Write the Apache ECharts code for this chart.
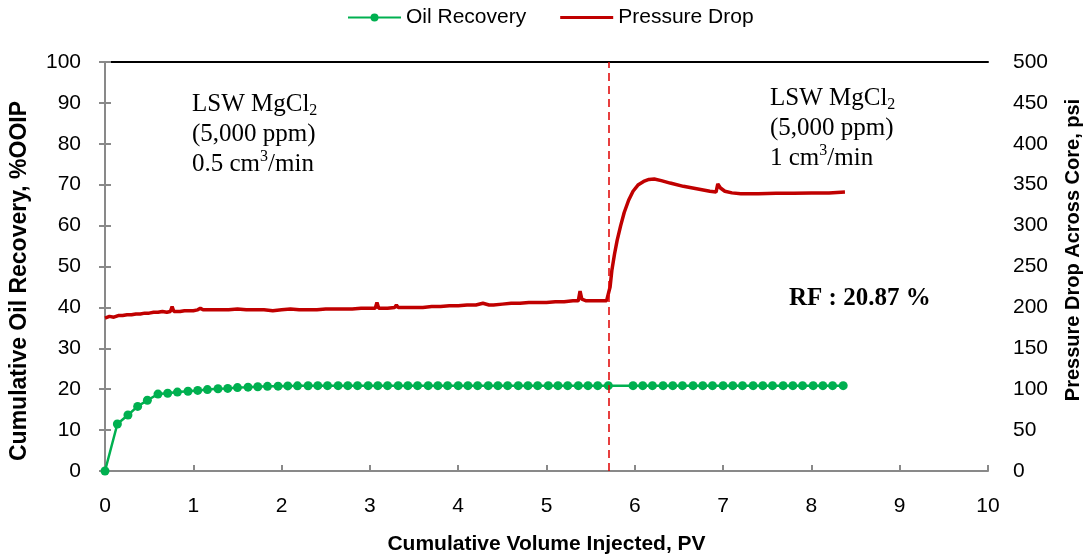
<!DOCTYPE html>
<html>
<head>
<meta charset="utf-8">
<script src="https://cdn.jsdelivr.net/npm/echarts@6/dist/echarts.min.js"></script>
<style>
  html, body { margin: 0; padding: 0; background: #ffffff; }
  #chart { width: 1090px; height: 556px; }
</style>
</head>
<body>
<div id="chart"></div>
<script>
// Cumulative pore volumes injected (PV) at each oil-recovery reading
const recoveryPV = [
  0, 0.14, 0.26, 0.37, 0.48, 0.60, 0.71, 0.82, 0.94, 1.05, 1.16, 1.28, 1.39, 1.50,
  1.62, 1.73, 1.84, 1.96, 2.07, 2.18, 2.30, 2.41, 2.52, 2.64, 2.75, 2.86, 2.98,
  3.09, 3.20, 3.32, 3.43, 3.54, 3.66, 3.77, 3.88, 4.00, 4.11, 4.22, 4.34, 4.45,
  4.56, 4.68, 4.79, 4.90, 5.02, 5.13, 5.24, 5.36, 5.47, 5.58, 5.70,
  5.98, 6.09, 6.20, 6.32, 6.43, 6.54, 6.66, 6.77, 6.88, 7.00, 7.11, 7.22, 7.34,
  7.45, 7.56, 7.68, 7.79, 7.90, 8.02, 8.13, 8.24, 8.36
];
// Cumulative oil recovery, %OOIP
const recoveryPct = [
  0, 11.5, 13.7, 15.8, 17.3, 18.8, 19.0, 19.3, 19.5, 19.7, 19.9, 20.1, 20.2, 20.4,
  20.5, 20.6, 20.7, 20.75, 20.8, 20.82, 20.85, 20.87, 20.87, 20.87, 20.87, 20.87, 20.87,
  20.87, 20.87, 20.87, 20.87, 20.87, 20.87, 20.87, 20.87, 20.87, 20.87, 20.87, 20.87, 20.87,
  20.87, 20.87, 20.87, 20.87, 20.87, 20.87, 20.87, 20.87, 20.87, 20.87, 20.87,
  20.87, 20.87, 20.87, 20.87, 20.87, 20.87, 20.87, 20.87, 20.87, 20.87, 20.87, 20.87, 20.87,
  20.87, 20.87, 20.87, 20.87, 20.87, 20.87, 20.87, 20.87, 20.87
];

// Pressure drop across the core (psi) against PV injected
const pressurePV = [
  0.00, 0.05, 0.10, 0.15, 0.20, 0.25, 0.30, 0.35, 0.40, 0.45, 0.50, 0.55, 0.60, 0.65,
  0.70, 0.74, 0.76, 0.78, 0.85, 0.90, 0.95, 1.00, 1.05, 1.08, 1.11, 1.20, 1.30, 1.40,
  1.50, 1.60, 1.70, 1.80, 1.90, 2.00, 2.10, 2.20, 2.30, 2.40, 2.50, 2.60, 2.70, 2.80,
  2.90, 3.00, 3.06, 3.08, 3.10, 3.20, 3.28, 3.30, 3.32, 3.40, 3.50, 3.60, 3.70, 3.80,
  3.90, 4.00, 4.10, 4.20, 4.28, 4.35, 4.40, 4.50, 4.60, 4.70, 4.80, 4.90, 5.00, 5.10,
  5.20, 5.30, 5.36, 5.38, 5.40, 5.45, 5.50, 5.60, 5.68, 5.70,
  5.72, 5.74, 5.77, 5.80, 5.84, 5.88, 5.93, 5.98, 6.04, 6.10, 6.16, 6.22, 6.30, 6.40,
  6.55, 6.70, 6.85, 6.92, 6.94, 6.97, 7.02, 7.10, 7.20, 7.40, 7.60, 7.80, 8.00, 8.20, 8.38
];
const pressurePsi = [
  187, 189, 188, 190, 190, 191, 191, 192, 192, 193, 193, 194, 194, 195,
  194, 195, 201, 195, 195, 196, 196, 196, 197, 199, 197, 197, 197, 197,
  198, 197, 197, 197, 196, 197, 198, 197, 197, 197, 198, 198, 198, 198,
  199, 199, 199, 206, 199, 199, 200, 203, 200, 200, 200, 200, 201, 201,
  202, 202, 203, 203, 205, 203, 203, 204, 205, 205, 206, 206, 206, 207,
  207, 208, 208, 220, 210, 208, 208, 208, 208, 208,
  225, 245, 265, 282, 300, 316, 331, 342, 350, 354, 356.5, 357, 355, 352,
  348, 345, 342, 341, 351, 346, 342, 340, 339, 339, 339.5, 339.5, 340, 340, 341
];

// Injection-rate change (PV)
const rateChangePV = 5.70;

const xTicks = { min: 0, max: 10, interval: 1 };
const leftTicks = { min: 0, max: 100, interval: 10 };
const rightTicks = { min: 0, max: 500, interval: 50 };

const recoveryData = recoveryPV.map((x, i) => [x, recoveryPct[i]]);
const pressureData = pressurePV.map((x, i) => [x, pressurePsi[i]]);

const axisGray = '#898989';
const sansFont = 'Liberation Sans, Arial, sans-serif';
const serifFont = 'Liberation Serif, Times New Roman, serif';

const chart = echarts.init(document.getElementById('chart'), null, { renderer: 'canvas' });

const noteRich = {
  sub: { fontSize: 16, fontFamily: serifFont, color: '#000', lineHeight: 16, verticalAlign: 'bottom' },
  sup: { fontSize: 16, fontFamily: serifFont, color: '#000', lineHeight: 20, verticalAlign: 'top' }
};

chart.setOption({
  animation: false,
  backgroundColor: '#ffffff',
  legend: {
    top: 2,
    left: 342,
    itemWidth: 53,
    itemHeight: 10,
    itemGap: 34,
    textStyle: { fontFamily: sansFont, fontSize: 21, color: '#000' },
    data: [
      { name: 'Oil Recovery' },
      { name: 'Pressure Drop', icon: 'path://M0,0H53V3H0Z' }
    ]
  },
  grid: { left: 105, right: 102, top: 62, bottom: 85, containLabel: false, outerBoundsMode: 'none' },
  xAxis: [
    {
      type: 'value',
      min: xTicks.min, max: xTicks.max, interval: xTicks.interval,
      name: 'Cumulative Volume Injected, PV',
      nameLocation: 'middle',
      nameGap: 63,
      nameTextStyle: { fontFamily: sansFont, fontSize: 21, fontWeight: 'bold', color: '#000' },
      axisLine: { show: true, lineStyle: { color: axisGray, width: 2 } },
      axisTick: { show: true, inside: true, length: 6, lineStyle: { color: axisGray, width: 2 } },
      axisLabel: { fontFamily: sansFont, fontSize: 21, color: '#000', margin: 25 },
      splitLine: { show: false }
    },
    {
      type: 'value',
      position: 'top',
      min: xTicks.min, max: xTicks.max, interval: xTicks.interval,
      axisLine: { show: true, onZero: false, lineStyle: { color: '#000', width: 2 } },
      axisTick: { show: false },
      axisLabel: { show: false },
      splitLine: { show: false }
    }
  ],
  yAxis: [
    {
      type: 'value',
      position: 'left',
      min: leftTicks.min, max: leftTicks.max, interval: leftTicks.interval,
      axisLine: { show: true, lineStyle: { color: axisGray, width: 2 } },
      axisTick: { show: true, inside: true, length: 6, lineStyle: { color: axisGray, width: 2 } },
      axisLabel: { fontFamily: sansFont, fontSize: 21, color: '#000', margin: 24 },
      splitLine: { show: false }
    },
    {
      type: 'value',
      position: 'right',
      min: rightTicks.min, max: rightTicks.max, interval: rightTicks.interval,
      axisLine: { show: true, lineStyle: { color: axisGray, width: 2 } },
      axisTick: { show: true, inside: true, length: 6, lineStyle: { color: axisGray, width: 2 } },
      axisLabel: { fontFamily: sansFont, fontSize: 21, color: '#000', margin: 25, align: 'left' },
      splitLine: { show: false }
    }
  ],
  series: [
    {
      name: 'Pressure Drop',
      type: 'line',
      xAxisIndex: 0,
      yAxisIndex: 1,
      data: pressureData,
      symbol: 'none',
      smooth: false,
      lineStyle: { color: '#c00000', width: 3.5 },
      itemStyle: { color: '#c00000' },
      z: 2,
      markLine: {
        silent: true,
        symbol: 'none',
        label: { show: false },
        lineStyle: { color: '#e00000', width: 1.5, type: [8, 5] },
        data: [{ xAxis: rateChangePV }]
      }
    },
    {
      name: 'Oil Recovery',
      type: 'line',
      xAxisIndex: 0,
      yAxisIndex: 0,
      data: recoveryData,
      symbol: 'circle',
      symbolSize: 9,
      showSymbol: true,
      lineStyle: { color: '#00b050', width: 2.5 },
      itemStyle: { color: '#00b050' },
      z: 3
    }
  ],
  graphic: [
    // vertical axis titles
    {
      type: 'text',
      x: 20,
      y: 281,
      rotation: Math.PI / 2,
      style: {
        text: 'Cumulative Oil Recovery, %OOIP',
        fontFamily: sansFont,
        fontSize: 23,
        fontWeight: 'bold',
        fill: '#000',
        align: 'center',
        verticalAlign: 'middle'
      }
    },
    {
      type: 'text',
      x: 1073,
      y: 250,
      rotation: Math.PI / 2,
      style: {
        text: 'Pressure Drop Across Core, psi',
        fontFamily: sansFont,
        fontSize: 20,
        fontWeight: 'bold',
        fill: '#000',
        align: 'center',
        verticalAlign: 'middle'
      }
    },
    // flood-stage notes
    {
      type: 'text',
      left: 192,
      top: 89,
      style: {
        text: 'LSW MgCl{sub|2}\n(5,000 ppm)\n0.5 cm{sup|3}/min',
        rich: noteRich,
        fontFamily: serifFont,
        fontSize: 25,
        lineHeight: 30,
        fill: '#000'
      }
    },
    {
      type: 'text',
      left: 770,
      top: 83,
      style: {
        text: 'LSW MgCl{sub|2}\n(5,000 ppm)\n1 cm{sup|3}/min',
        rich: noteRich,
        fontFamily: serifFont,
        fontSize: 25,
        lineHeight: 30,
        fill: '#000'
      }
    },
    {
      type: 'text',
      left: 789,
      top: 286,
      style: {
        text: 'RF : 20.87 %',
        fontFamily: serifFont,
        fontSize: 25,
        fontWeight: 'bold',
        fill: '#000'
      }
    }
  ]
});
</script>
</body>
</html>
